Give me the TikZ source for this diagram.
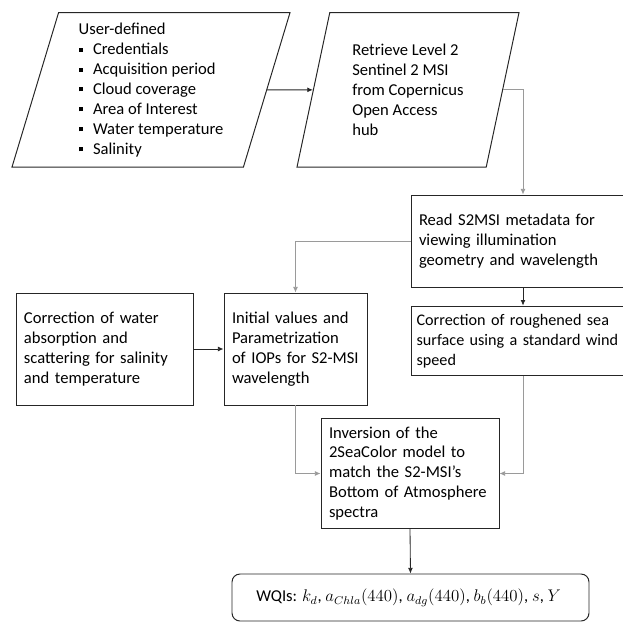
\documentclass[tikz,border=0pt]{standalone}
\usepackage{fontspec}
\setmainfont{Carlito}
\usetikzlibrary{shapes,arrows.meta,positioning,calc}
\definecolor{LineGray}{HTML}{9A9A9A}
\definecolor{BoxBlack}{HTML}{262626}

\newcommand{\sqbullet}{\makebox[0.36cm][l]{\rule[0.07cm]{0.1cm}{0.1cm}}}

\begin{document}
\begin{tikzpicture}[
    font=\fontsize{11.8}{14.2}\selectfont,
    box/.style={draw=BoxBlack, line width=0.7pt, align=left, inner sep=0.2cm},
    io/.style={trapezium, trapezium left angle=72, trapezium right angle=108, trapezium stretches body, draw=BoxBlack, line width=0.7pt, align=left, minimum height=3.86cm},
    arr/.style={-{Latex[length=4pt,width=3.5pt]}, line width=0.6pt, color=BoxBlack},
    garr/.style={arr, color=LineGray}
]

  % Quadro geral (recorte no tamanho da figura)
  \clip (0,0) rectangle (15.575,-15.55);

  % =========================================================================
  % ENTRADAS (PARALELOGRAMOS)
  % =========================================================================
  \node[io, minimum width=6.95cm] (userdef) at (3.775,-2.246) {
    User-defined\\
    \sqbullet Credentials\\
    \sqbullet Acquisition period\\
    \sqbullet Cloud coverage\\
    \sqbullet Area of Interest\\
    \sqbullet Water temperature\\
    \sqbullet Salinity
  };

  \node[io, minimum width=5.55cm] (retrieve) at (10.2,-2.246) {
    Retrieve Level 2\\
    Sentinel 2 MSI\\
    from Copernicus\\
    Open Access\\
    hub
  };

  % =========================================================================
  % PROCESSAMENTO
  % =========================================================================
  \node[box, text width=5.2cm, minimum height=2.3cm] (readmeta) at (13.075,-6.025) {
    Read S2MSI metadata for\\
    viewing illumination\\
    geometry and wavelength
  };

  \node[box, inner xsep=0.14cm, text width=5.32cm, minimum height=1.6cm, font=\fontsize{11.5}{14.2}\selectfont] (roughsea) at (13.075,-8.525) {
    Correction of roughened sea\\
    surface using a standard wind\\
    speed
  };

  \node[box, text width=4.025cm, minimum height=2.8cm] (watercorr) at (2.6125,-8.725) {
    Correction of water\\
    absorption and\\
    scattering for salinity\\
    and temperature
  };

  \node[box, text width=3.175cm, minimum height=2.8cm] (initiop) at (7.3875,-8.725) {
    Initial values and\\
    Parametrization\\
    of IOPs for S2-MSI\\
    wavelength
  };

  \node[box, text width=4.05cm, minimum height=2.675cm] (inversion) at (10.25,-11.8375) {
    Inversion of the\\
    2SeaColor model to\\
    match the S2-MSI's\\
    Bottom of Atmosphere\\
    spectra
  };

  % Saída
  \node[box, rounded corners=0.2cm, align=center, minimum width=8.925cm, minimum height=1.175cm] (wqi) at (10.2625,-14.9375) {
    WQIs: $k_d$, $a_{Chla}(440)$, $a_{dg}(440)$, $b_b(440)$, $s$, $Y$
  };

  % =========================================================================
  % LIGAÇÕES
  % =========================================================================
  \draw[arr] (userdef.east) -- (retrieve.west);
  \draw[garr] (retrieve.east) -| (readmeta.north);
  \draw[arr] (readmeta.south) -- (roughsea.north);
  \draw[garr] (readmeta.west) -| (initiop.north);
  \draw[arr] (watercorr.east) -- (initiop.west);
  \draw[garr] (initiop.south) |- (inversion.west);
  \draw[garr] (roughsea.south) |- (inversion.east);
  \draw[arr] (inversion.south) -- (wqi.north);

\end{tikzpicture}
\end{document}
